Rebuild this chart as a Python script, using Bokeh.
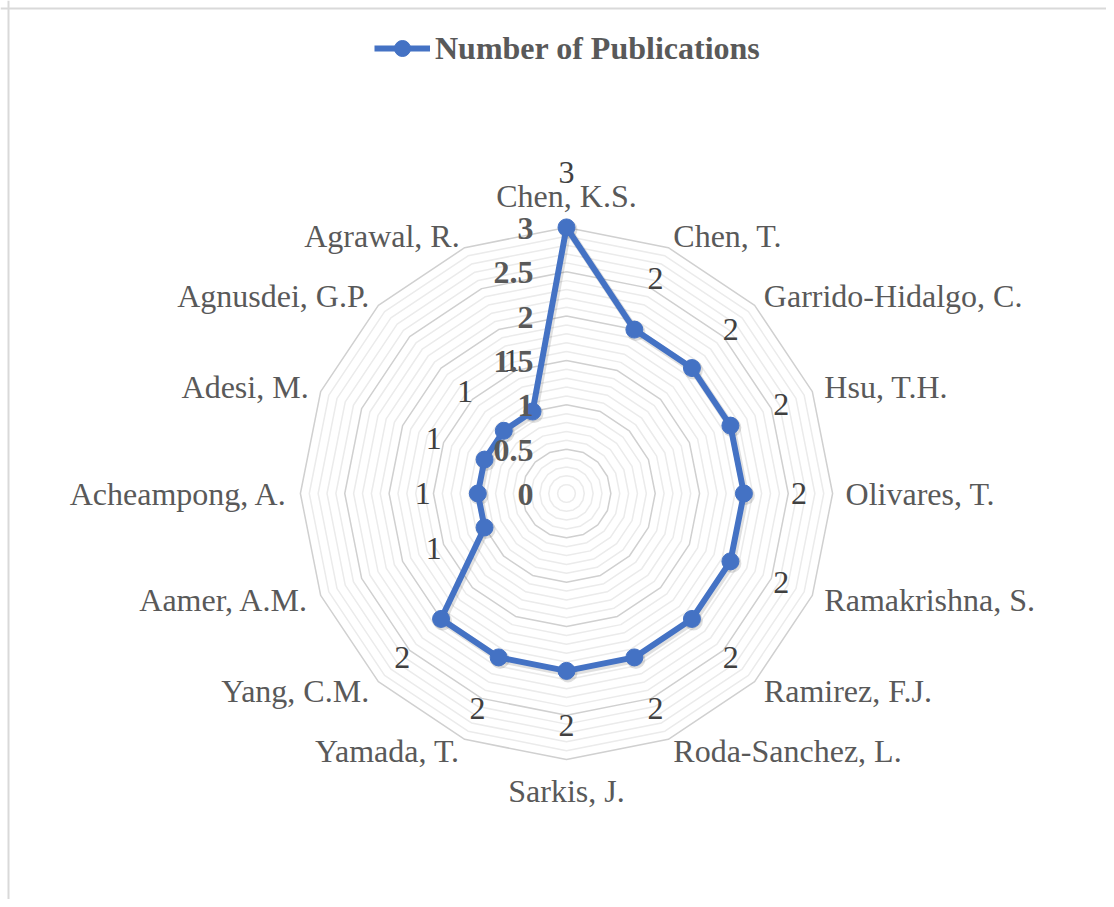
import numpy as np
from bokeh.plotting import figure
from bokeh.models import ColumnDataSource, Range1d, Span, Legend, LegendItem
from bokeh.core.properties import value
from bokeh.embed import file_html
from bokeh.resources import INLINE

# ---------------- data ----------------
categories = ["Chen, K.S.", "Chen, T.", "Garrido-Hidalgo, C.", "Hsu, T.H.", "Olivares, T.",
              "Ramakrishna, S.", "Ramirez, F.J.", "Roda-Sanchez, L.", "Sarkis, J.", "Yamada, T.",
              "Yang, C.M.", "Aamer, A.M.", "Acheampong, A.", "Adesi, M.", "Agnusdei, G.P.",
              "Agrawal, R."]
publications = [3, 2, 2, 2, 2, 2, 2, 2, 2, 2, 2, 1, 1, 1, 1, 1]
radial_ticks = [0, 0.5, 1, 1.5, 2, 2.5, 3]
radial_tick_labels = ["0", "0.5", "1", "1.5", "2", "2.5", "3"]
minor_step = 0.1
axis_max = 3
series_name = "Number of Publications"

# ---------------- geometry / style ----------------
W, H = 1106, 899
PX = 88.7            # pixels per unit value
CX, CY = 566, 493    # centre in frame pixels (from left, from top)
FONT = "Liberation Serif"
BLUE = "#4472C4"
TXT = "#595959"
FS = "32px"

x_range = Range1d(-CX / PX, (W - CX) / PX)
y_range = Range1d(-(H - CY) / PX, CY / PX)

p = figure(width=W, height=H, x_range=x_range, y_range=y_range,
           output_backend="svg", toolbar_location=None, min_border=0,
           outline_line_color=None, background_fill_color="white")
p.axis.visible = False
p.grid.visible = False

n = len(categories)
theta = np.pi / 2 - 2 * np.pi * np.arange(n) / n
c, s = np.cos(theta), np.sin(theta)

# ---------------- grid polygons ----------------
levels = np.round(np.arange(1, int(round(axis_max / minor_step)) + 1) * minor_step, 6)
major = [lv for lv in levels if abs(lv / 0.5 - round(lv / 0.5)) < 1e-6]
minor = [lv for lv in levels if lv not in major]

def rings(lvls):
    xs = [list(np.append(lv * c, lv * c[0])) for lv in lvls]
    ys = [list(np.append(lv * s, lv * s[0])) for lv in lvls]
    return xs, ys

mxs, mys = rings(minor)
p.multi_line(mxs, mys, line_color="#ebebeb", line_width=1.5)
Mxs, Mys = rings(major)
p.multi_line(Mxs, Mys, line_color="#d0d0d0", line_width=1.5)

# ---------------- series ----------------
vals = np.array(publications, dtype=float)
sx = np.append(vals * c, vals[0] * c[0])
sy = np.append(vals * s, vals[0] * s[0])
dx, dy = 1.5 / PX, -2.0 / PX

# soft shadow
p.line(sx + dx, sy + dy, line_color="#000000", line_alpha=0.12,
       line_width=7.5, line_join="round")
p.scatter(vals * c + dx, vals * s + dy, size=19, fill_color="#000000", fill_alpha=0.12,
          line_color=None)
line_r = p.line(sx, sy, line_color=BLUE, line_width=6, line_join="round")
pts = ColumnDataSource(dict(x=vals * c, y=vals * s))
scat_r = p.scatter("x", "y", source=pts, size=17, fill_color=BLUE, line_color=BLUE)

# ---------------- data labels ----------------
dl = ColumnDataSource(dict(
    x=vals * c, y=vals * s, text=[str(v) for v in publications],
    xo=55 * c, yo=-55 * s))
p.text("x", "y", text="text", source=dl, x_offset="xo", y_offset="yo",
       text_font=value(FONT), text_font_size=value(FS), text_color="#404040",
       text_align="center", text_baseline="middle")

# ---------------- category labels ----------------
aligns, bases = [], []
for ci, si in zip(c, s):
    if ci > 0.01:
        aligns.append("left")
    elif ci < -0.01:
        aligns.append("right")
    else:
        aligns.append("center")
    if abs(ci) <= 0.01:
        bases.append("bottom" if si > 0 else "top")
    else:
        bases.append("middle")
cl = ColumnDataSource(dict(
    x=axis_max * c, y=axis_max * s, text=categories,
    xo=13 * c, yo=-13 * s, align=aligns, base=bases))
p.text("x", "y", text="text", source=cl, x_offset="xo", y_offset="yo",
       text_font=value(FONT), text_font_size=value(FS), text_color=TXT,
       text_align="align", text_baseline="base")

# ---------------- radial axis labels ----------------
rl = ColumnDataSource(dict(x=[0.0] * len(radial_ticks), y=radial_ticks,
                           text=radial_tick_labels))
p.text("x", "y", text="text", source=rl, x_offset=-33, y_offset=1,
       text_font=value(FONT), text_font_size=value(FS), text_font_style=value("bold"),
       text_color=TXT, text_align="right", text_baseline="middle")

# ---------------- frame border (left/top visible) ----------------
p.add_layout(Span(location=x_range.start + 8 / PX, dimension="height",
                  line_color="#d9d9d9", line_width=2))
p.add_layout(Span(location=y_range.end - 8 / PX, dimension="width",
                  line_color="#d9d9d9", line_width=2))

# ---------------- legend ----------------
legend = Legend(items=[LegendItem(label=series_name, renderers=[line_r, scat_r])],
                location=(374, 831), padding=0, margin=0, spacing=0,
                glyph_width=56, glyph_height=40, label_standoff=5,
                border_line_color=None, background_fill_alpha=0,
                label_text_font=FONT, label_text_font_size=FS,
                label_text_font_style="bold", label_text_color=TXT)
p.add_layout(legend)

open("out.html", "w").write(file_html(p, INLINE))
